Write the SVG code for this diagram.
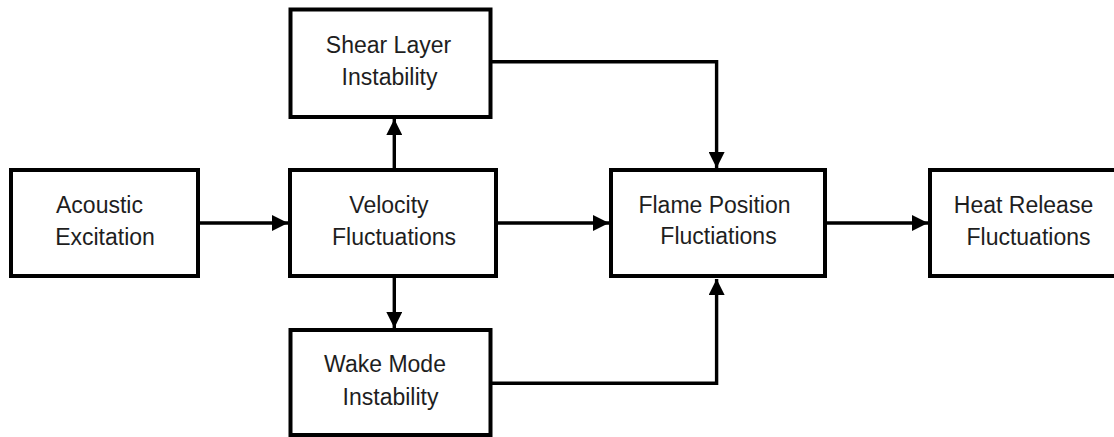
<svg xmlns="http://www.w3.org/2000/svg" width="1114" height="437" viewBox="0 0 1114 437">
  <style>
    .box { fill: #ffffff; stroke: #000000; stroke-width: 4; }
    .lbl { font-family: "Liberation Sans", Arial, sans-serif; font-size: 23px; fill: #1e1e1e; text-anchor: middle; }
    .conn { fill: none; stroke: #000000; stroke-width: 3.4; stroke-linejoin: miter; }
  </style>
  <defs>
    <marker id="arrow" markerUnits="userSpaceOnUse" markerWidth="17" markerHeight="16" refX="16" refY="8" orient="auto" viewBox="0 0 17 16">
      <path d="M0,0 L16,8 L0,16 Z" fill="#000000"/>
    </marker>
  </defs>
  <rect width="1114" height="437" fill="#ffffff"/>

  <g id="connectors">
    <path class="conn" d="M200,223 L288,223" marker-end="url(#arrow)"/>
    <path class="conn" d="M394.3,168 L394.3,119" marker-end="url(#arrow)"/>
    <path class="conn" d="M394.3,278 L394.3,328" marker-end="url(#arrow)"/>
    <path class="conn" d="M498,223 L609,223" marker-end="url(#arrow)"/>
    <path class="conn" d="M492,61.7 L716.6,61.7 L716.6,168" marker-end="url(#arrow)"/>
    <path class="conn" d="M492,383.3 L716.6,383.3 L716.6,279" marker-end="url(#arrow)"/>
    <path class="conn" d="M827,223 L928,223" marker-end="url(#arrow)"/>
  </g>

  <g id="acoustic">
    <rect class="box" x="11" y="170" width="187" height="106"/>
    <text class="lbl" x="99.5" y="213">Acoustic</text>
    <text class="lbl" x="105" y="245">Excitation</text>
  </g>

  <g id="velocity">
    <rect class="box" x="290" y="170" width="206" height="106"/>
    <text class="lbl" x="389" y="213">Velocity</text>
    <text class="lbl" x="394" y="245">Fluctuations</text>
  </g>

  <g id="shear">
    <rect class="box" x="290.5" y="9.5" width="200" height="107.5"/>
    <text class="lbl" x="388.5" y="53">Shear Layer</text>
    <text class="lbl" x="389.5" y="85">Instability</text>
  </g>

  <g id="wake">
    <rect class="box" x="290.5" y="330" width="200" height="105"/>
    <text class="lbl" x="385" y="372">Wake Mode</text>
    <text class="lbl" x="390.5" y="405">Instability</text>
  </g>

  <g id="flame">
    <rect class="box" x="611" y="170" width="214" height="106"/>
    <text class="lbl" x="714.5" y="213">Flame Position</text>
    <text class="lbl" x="718.5" y="244">Fluctiations</text>
  </g>

  <g id="heat">
    <rect class="box" x="930" y="170" width="192" height="106"/>
    <text class="lbl" x="1023.5" y="213">Heat Release</text>
    <text class="lbl" x="1028.5" y="245">Fluctuations</text>
  </g>
</svg>
